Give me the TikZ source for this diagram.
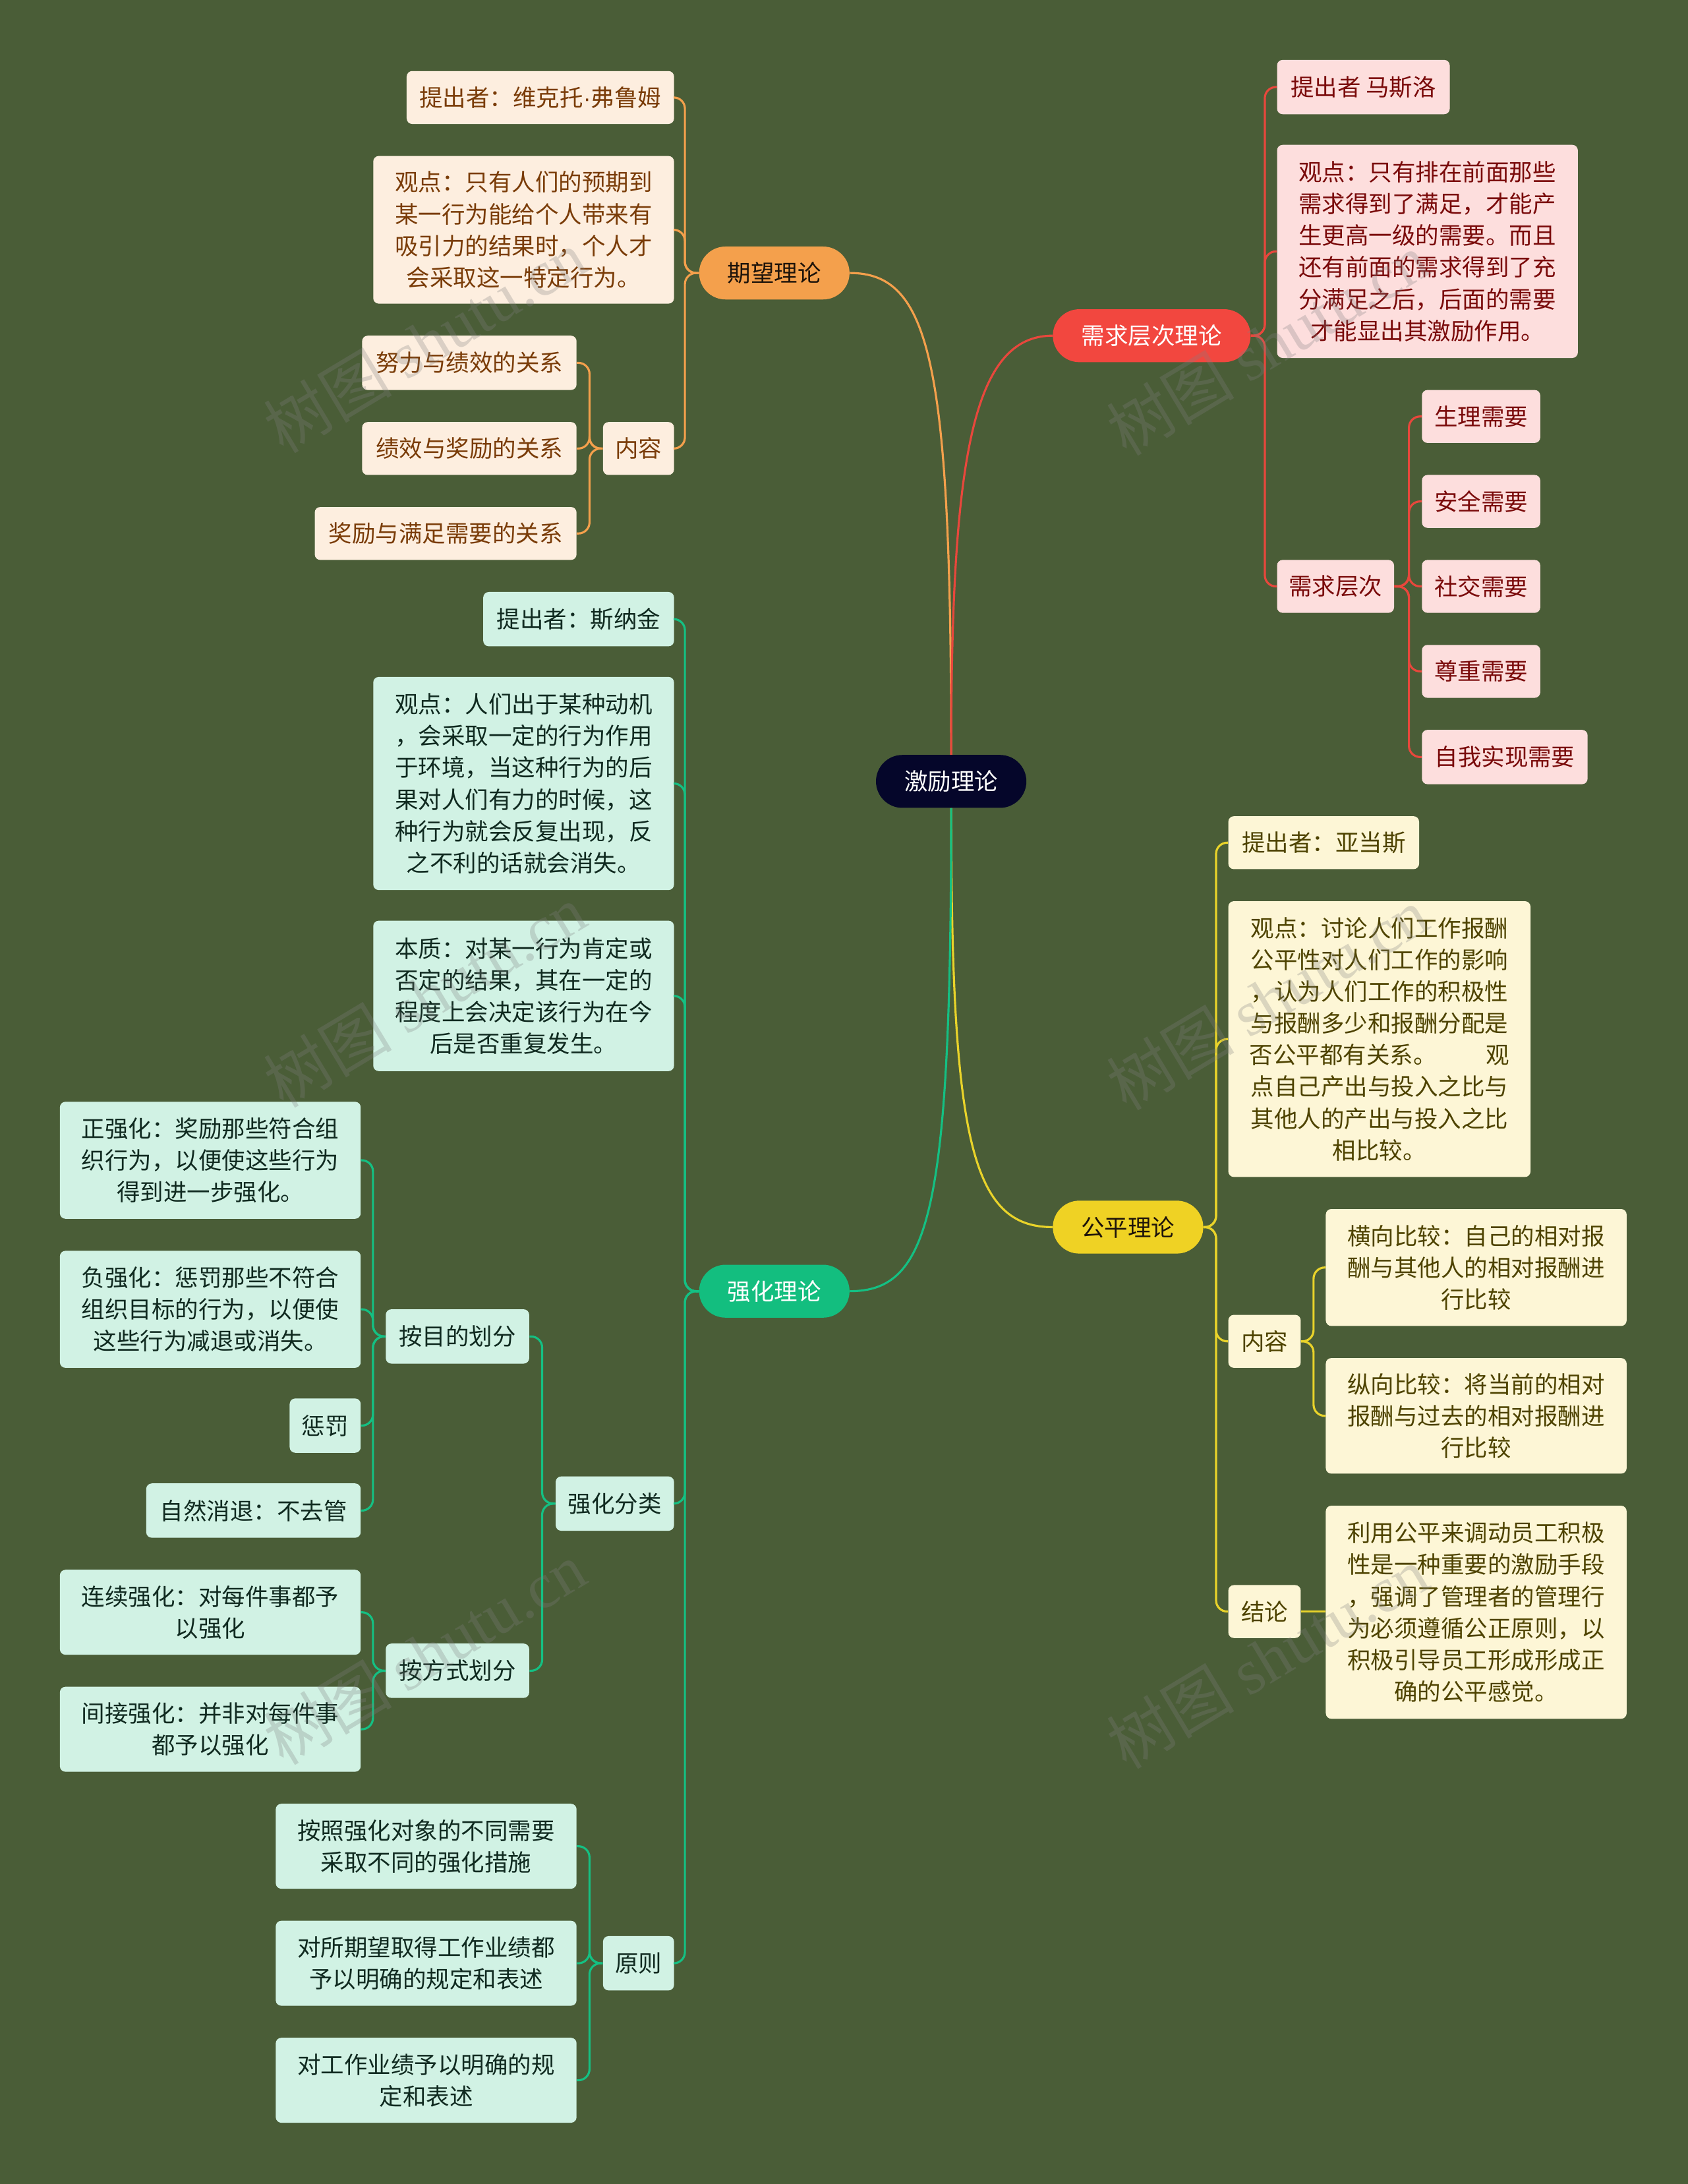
\documentclass[tikz,border=0pt]{standalone}
\usepackage{fontspec}
\setmainfont{Noto Sans CJK SC}
\newfontfamily\wmfont{Liberation Serif}
\newfontfamily\latfont{Liberation Sans}
\definecolor{bgc}{HTML}{4A5D37}
\definecolor{rootc}{HTML}{05062A}
\definecolor{oc}{HTML}{F4A04C}
\definecolor{ofill}{HTML}{FDEEDF}
\definecolor{otext}{HTML}{7A3C08}
\definecolor{rc}{HTML}{F2473F}
\definecolor{rline}{HTML}{E8473C}
\definecolor{rfill}{HTML}{FDDEDD}
\definecolor{rtext}{HTML}{7A0A0A}
\definecolor{yc}{HTML}{EFD224}
\definecolor{yline}{HTML}{E9D32A}
\definecolor{yfill}{HTML}{FDF6D6}
\definecolor{ytext}{HTML}{4E4300}
\definecolor{gc}{HTML}{13BE7F}
\definecolor{gline}{HTML}{14C083}
\definecolor{gfill}{HTML}{D1F2E4}
\definecolor{gtext}{HTML}{102A20}
\tikzset{
  every node/.style={font=\fontsize{16.8}{22.8}\selectfont, inner sep=0pt, align=center},
  wh/.style 2 args={minimum width=#1pt, minimum height=#2pt},
  pill/.style={rounded corners=19pt, wh={108}{38}},
  rootbox/.style={pill, fill=rootc, text=white},
  obr/.style={pill, fill=oc, text=black!85!brown},
  rbr/.style={pill, fill=rc, text=white},
  ybr/.style={pill, fill=yc, text=black!85!brown},
  gbr/.style={pill, fill=gc, text=white},
  ob/.style={rounded corners=4pt, fill=ofill, text=otext},
  rb/.style={rounded corners=4pt, fill=rfill, text=rtext},
  yb/.style={rounded corners=4pt, fill=yfill, text=ytext},
  gb/.style={rounded corners=4pt, fill=gfill, text=gtext},
  lnk/.style={line width=1.5pt, rounded corners=8pt},
  ol/.style={lnk, draw=oc},
  rl/.style={lnk, draw=rline},
  yl/.style={lnk, draw=yline},
  gl/.style={lnk, draw=gline},
  wm/.style={font=\fontsize{46}{50}\selectfont, text=gray, opacity=0.28, rotate=31}
}
\begin{document}
\begin{tikzpicture}[x=1pt,y=-1pt]
\fill[bgc] (0,0) rectangle (1212,1568);
\useasboundingbox (0,0) rectangle (1212,1568);

% root and branches
\node[rootbox] (r) at (683,561) {激励理论};
\node[obr] (e1) at (556,196) {期望理论};
\node[rbr, wh={142}{38}] (e2) at (827,241) {需求层次理论};
\node[ybr] (e3) at (810,881) {公平理论};
\node[gbr] (e4) at (556,927) {强化理论};

\draw[line width=1.5pt, oc] (e1.east) .. controls (668,196) and (683,260) .. (r.north);
\draw[line width=1.5pt, rline] (r.north) .. controls (683,330) and (698,241) .. (e2.west);
\draw[line width=1.5pt, yline] (r.south) .. controls (683,820) and (698,881) .. (e3.west);
\draw[line width=1.5pt, gline] (r.south) .. controls (683,870) and (668,927) .. (e4.east);

% 期望理论
\node[ob, wh={192}{38}] (e1a) at (388,70) {提出者：维克托{\latfont ·}弗鲁姆};
\node[ob, wh={216}{106}] (e1b) at (376,165) {观点：只有人们的预期到\\某一行为能给个人带来有\\吸引力的结果时，个人才\\会采取这一特定行为。};
\node[ob, wh={51}{38}] (e1c) at (458.5,322) {内容};
\node[ob, wh={154}{39}] (e1c1) at (337,260.5) {努力与绩效的关系};
\node[ob, wh={154}{38}] (e1c2) at (337,322) {绩效与奖励的关系};
\node[ob, wh={188}{38}] (e1c3) at (320,383) {奖励与满足需要的关系};
\foreach \c in {e1a,e1b,e1c} \draw[ol] (e1.west) -- ++(-10,0) |- (\c.east);
\foreach \c in {e1c1,e1c2,e1c3} \draw[ol] (e1c.west) -- ++(-9.5,0) |- (\c.east);

% 需求层次理论
\node[rb, wh={124}{39}] (e2a) at (979,62.5) {提出者 马斯洛};
\node[rb, wh={216}{153}] (e2b) at (1025,180.5) {观点：只有排在前面那些\\需求得到了满足，才能产\\生更高一级的需要。而且\\还有前面的需求得到了充\\分满足之后，后面的需要\\才能显出其激励作用。};
\node[rb, wh={84}{38}] (e2c) at (959,421) {需求层次};
\node[rb, wh={85}{38}] (e2c1) at (1063.5,299) {生理需要};
\node[rb, wh={85}{38}] (e2c2) at (1063.5,360) {安全需要};
\node[rb, wh={85}{38}] (e2c3) at (1063.5,421) {社交需要};
\node[rb, wh={85}{38}] (e2c4) at (1063.5,482) {尊重需要};
\node[rb, wh={119}{39}] (e2c5) at (1080.5,543.5) {自我实现需要};
\foreach \c in {e2a,e2b,e2c} \draw[rl] (e2.east) -- ++(10,0) |- (\c.west);
\foreach \c in {e2c1,e2c2,e2c3,e2c4,e2c5} \draw[rl] (e2c.east) -- ++(10.5,0) |- (\c.west);

% 公平理论
\node[yb, wh={137}{38}] (e3a) at (950.5,605) {提出者：亚当斯};
\node[yb, wh={217}{198}] (e3b) at (990.5,746) {观点：讨论人们工作报酬\\公平性对人们工作的影响\\，认为人们工作的积极性\\与报酬多少和报酬分配是\\否公平都有关系。\hspace{2.1em}观\\点自己产出与投入之比与\\其他人的产出与投入之比\\相比较。};
\node[yb, wh={52}{38}] (e3c) at (908,963) {内容};
\node[yb, wh={52}{38}] (e3d) at (908,1157) {结论};
\node[yb, wh={216}{84}] (e3c1) at (1060,910) {横向比较：自己的相对报\\酬与其他人的相对报酬进\\行比较};
\node[yb, wh={216}{83}] (e3c2) at (1060,1016.5) {纵向比较：将当前的相对\\报酬与过去的相对报酬进\\行比较};
\node[yb, wh={216}{153}] (e3d1) at (1060,1157.5) {利用公平来调动员工积极\\性是一种重要的激励手段\\，强调了管理者的管理行\\为必须遵循公正原则，以\\积极引导员工形成形成正\\确的公平感觉。};
\foreach \c in {e3a,e3b,e3c,e3d} \draw[yl] (e3.east) -- ++(9,0) |- (\c.west);
\foreach \c in {e3c1,e3c2} \draw[yl] (e3c.east) -- ++(9,0) |- (\c.west);
\draw[yl] (e3d.east) -- (e3d1.west |- e3d.east);

% 强化理论
\node[gb, wh={137}{39}] (e4a) at (415.5,444.5) {提出者：斯纳金};
\node[gb, wh={216}{153}] (e4b) at (376,562.5) {观点：人们出于某种动机\\，会采取一定的行为作用\\于环境，当这种行为的后\\果对人们有力的时候，这\\种行为就会反复出现，反\\之不利的话就会消失。};
\node[gb, wh={216}{108}] (e4c) at (376,715) {本质：对某一行为肯定或\\否定的结果，其在一定的\\程度上会决定该行为在今\\后是否重复发生。};
\node[gb, wh={85}{39}] (e4d) at (441.5,1079.5) {强化分类};
\node[gb, wh={51}{39}] (e4e) at (458.5,1409.5) {原则};
\foreach \c in {e4a,e4b,e4c,e4d,e4e} \draw[gl] (e4.west) -- ++(-10,0) |- (\c.east);

\node[gb, wh={103}{39}] (e4d1) at (328.5,959.5) {按目的划分};
\node[gb, wh={103}{39}] (e4d2) at (328.5,1199.5) {按方式划分};
\foreach \c in {e4d1,e4d2} \draw[gl] (e4d.west) -- ++(-9.5,0) |- (\c.east);

\node[gb, wh={216}{84}] (p1) at (151,833) {正强化：奖励那些符合组\\织行为，以便使这些行为\\得到进一步强化。};
\node[gb, wh={216}{84}] (p2) at (151,940) {负强化：惩罚那些不符合\\组织目标的行为，以便使\\这些行为减退或消失。};
\node[gb, wh={51}{39}] (p3) at (233.5,1023.5) {惩罚};
\node[gb, wh={154}{39}] (p4) at (182,1084.5) {自然消退：不去管};
\foreach \c in {p1,p2,p3,p4} \draw[gl] (e4d1.west) -- ++(-9,0) |- (\c.east);

\node[gb, wh={216}{61}] (m1) at (151,1157.5) {连续强化：对每件事都予\\以强化};
\node[gb, wh={216}{61}] (m2) at (151,1241.5) {间接强化：并非对每件事\\都予以强化};
\foreach \c in {m1,m2} \draw[gl] (e4d2.west) -- ++(-9,0) |- (\c.east);

\node[gb, wh={216}{61}] (y1) at (306,1325.5) {按照强化对象的不同需要\\采取不同的强化措施};
\node[gb, wh={216}{61}] (y2) at (306,1409.5) {对所期望取得工作业绩都\\予以明确的规定和表述};
\node[gb, wh={216}{61}] (y3) at (306,1493.5) {对工作业绩予以明确的规\\定和表述};
\foreach \c in {y1,y2,y3} \draw[gl] (e4e.west) -- ++(-9.5,0) |- (\c.east);

% watermarks
\node[wm] (w1) at (305,245) {树图 {\wmfont shutu.cn}};
\node[wm] (w2) at (305,715) {树图 {\wmfont shutu.cn}};
\node[wm] (w3) at (305,1187) {树图 {\wmfont shutu.cn}};
\node[wm] (w4) at (910,247) {树图 {\wmfont shutu.cn}};
\node[wm] (w5) at (910,717) {树图 {\wmfont shutu.cn}};
\node[wm] (w6) at (910,1190) {树图 {\wmfont shutu.cn}};
\end{tikzpicture}
\end{document}
